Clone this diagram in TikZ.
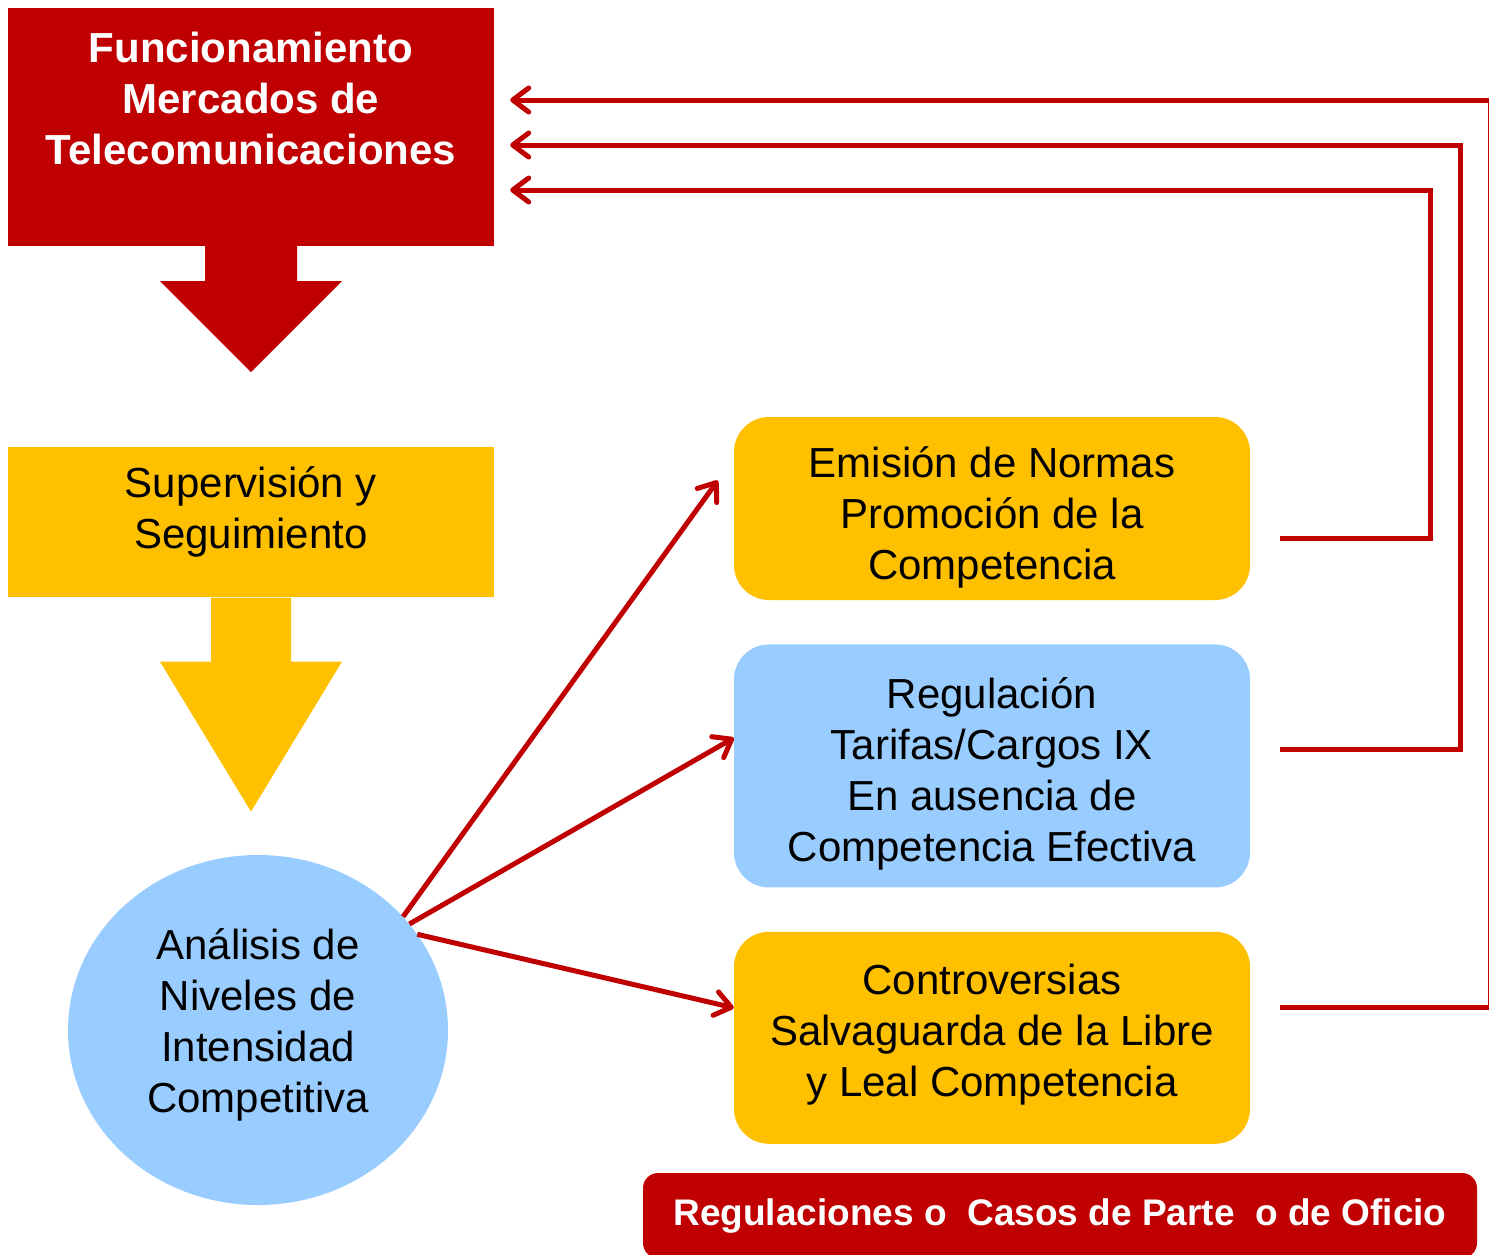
\documentclass[tikz,border=0pt]{standalone}
\usepackage{fontspec}
\setmainfont{Liberation Sans}
\usetikzlibrary{arrows.meta,calc,shapes.geometric,positioning}
\definecolor{tRed}{HTML}{C00000}
\definecolor{tGold}{HTML}{FFC000}
\definecolor{tBlue}{HTML}{99CCFF}
\tikzset{MAP style/.style={x=1pt,y=-1pt,>={Straight Barb[length=16pt,width=24pt,round]},
	every node/.style={inner sep=0pt,align=center,font=\fontsize{42}{51}\selectfont}}}
\tikzset{
	redbox/.style={fill=tRed,minimum width=486pt,minimum height=238pt},
	goldbox/.style={fill=tGold,minimum width=486pt,minimum height=150pt},
	caja/.style={minimum width=516pt,rounded corners=35pt},
	flecha/.style={->,draw=tRed,line width=5pt},
	retorno/.style={->,draw=tRed,line width=5pt,shorten >=16pt}
}

\begin{document}
\begin{tikzpicture}[MAP style]
	\useasboundingbox (0,0) rectangle (1489,1254);

	% left column
	\node[redbox] (mercados) at (251,127) {};
	\node[text=white,font=\bfseries\fontsize{42}{51}\selectfont] (mercadostxt) at ([yshift=29pt]mercados.center) {Funcionamiento\\Mercados de\\Telecomunicaciones};
	\node[goldbox] (superv) [below = 201pt of mercados] {};
	\node (supervtxt) at ([yshift=11pt]superv.center) {Supervisión y\\Seguimiento};
	\node[ellipse,fill=tBlue,minimum width=380pt,minimum height=350pt] (analisis) at (258,1030) {};
	\node (analisistxt) at ([yshift=5pt]analisis.center) {Análisis de\\Niveles de\\Intensidad\\Competitiva};

	% block arrows
	\fill[tRed] ([xshift=-46pt]mercados.south) -- ++(0,35) -- ++(-45,0) -- ++(91,91) -- ++(91,-91) -- ++(-45,0) -- ++(0,-35) -- cycle;
	\fill[tGold] ([xshift=-40pt]superv.south) -- ++(0,64) -- ++(-51,0) -- ++(91,150) -- ++(91,-150) -- ++(-51,0) -- ++(0,-64) -- cycle;

	% right column
	\node[caja,fill=tGold,minimum height=183pt] (normas) at (992,508.5) {};
	\node (normastxt) at ([yshift=-9pt]normas.center) {Emisión de Normas\\Promoción de la\\Competencia};
	\node[caja,fill=tBlue,minimum height=243pt] (tarifas) [below = 44pt of normas] {};
	\node (tarifastxt) at ([yshift=-8pt]tarifas.center) {Regulación\\Tarifas/Cargos IX\\En ausencia de\\Competencia Efectiva};
	\node[caja,fill=tGold,minimum height=212pt] (controv) [below = 44pt of tarifas] {};
	\node (controvtxt) at ([yshift=3pt]controv.center) {Controversias\\Salvaguarda de la Libre\\y Leal Competencia};
	\node[fill=tRed,text=white,minimum width=834pt,minimum height=85pt,rounded corners=15pt,font=\bfseries\fontsize{37}{44}\selectfont] (casos) at (1060,1215.5) {Regulaciones o\ \ Casos de Parte\ \ o de Oficio};

	\draw[flecha] (analisis.38) -- ([shift={(-16pt,28pt)}]normas.west);
	\draw[flecha] (analisis.35) -- ([yshift=28pt]tarifas.west);
	\draw[flecha] (analisis.31) -- ([yshift=30pt]controv.west);

	% feedback
	\coordinate (ret1) at ([xshift=30pt,yshift=-29.5pt]normas.east);
	\coordinate (ret2) at ([xshift=30pt,yshift=16.5pt]tarifas.east);
	\coordinate (ret3) at ([xshift=30pt,yshift=30pt]controv.east);
	\draw[retorno] (ret1) -| (1430,190) -- (mercados.east |- 0,190);
	\draw[retorno] (ret2) -| (1460,145) -- (mercados.east |- 0,145);
	\draw[retorno] (ret3) -| (1490,100) -- (mercados.east |- 0,100);
\end{tikzpicture}
\end{document}
